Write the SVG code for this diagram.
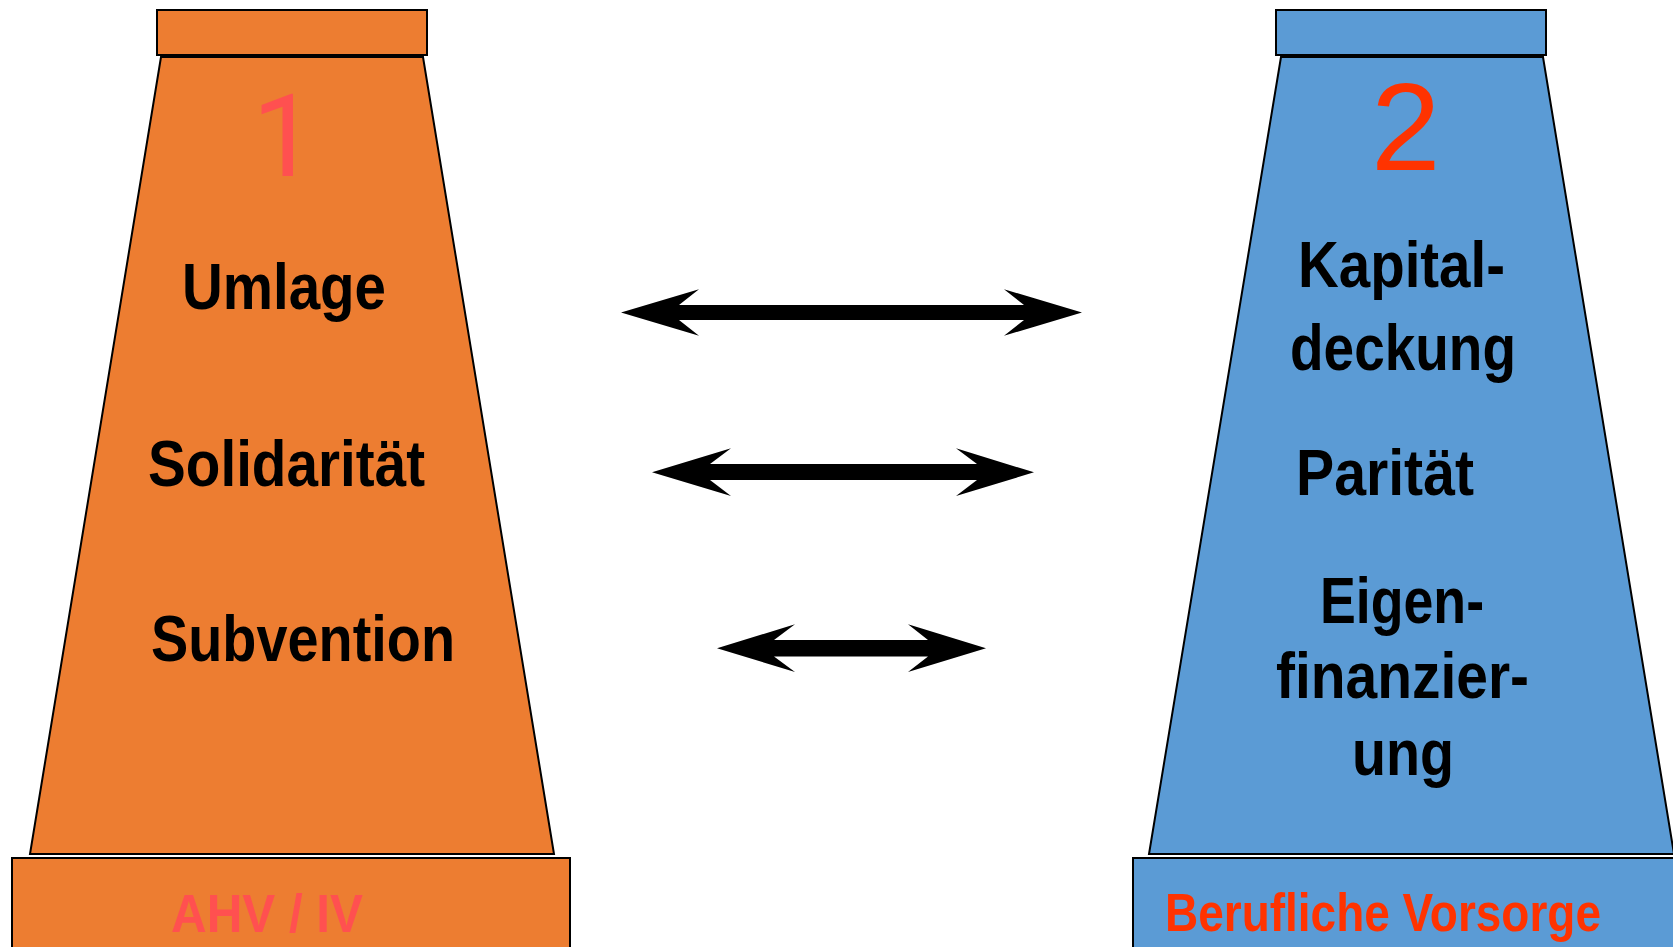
<svg xmlns="http://www.w3.org/2000/svg" width="1673" height="947" viewBox="0 0 1673 947">
<style>
.or{fill:#ED7D31;stroke:#000;stroke-width:2}
.bl{fill:#5B9BD5;stroke:#000;stroke-width:2}
.t{font-family:"Liberation Sans Narrow","Liberation Sans",Arial,sans-serif;font-weight:bold;font-size:64px;fill:#000}
.lab{font-family:"Liberation Sans Narrow","Liberation Sans",Arial,sans-serif;font-weight:bold;font-size:53px}
.num{font-family:"Liberation Sans",Arial,sans-serif;font-weight:normal}
.arr{fill:#000}
</style>
<rect width="1673" height="947" fill="#fff"/>
<g id="pillar1">
<rect class="or" x="157" y="10" width="270" height="45"/>
<polygon class="or" points="161,57 423,57 554,854 30,854"/>
<rect class="or" x="12" y="858" width="558" height="100"/>
<text x="252" y="175.7" font-family="Roboto,'Open Sans',sans-serif" font-size="115" fill="#FF5050">1</text>
<text class="t" x="182" y="309.3" textLength="204" lengthAdjust="spacingAndGlyphs">Umlage</text>
<text class="t" x="148" y="486" textLength="277" lengthAdjust="spacingAndGlyphs">Solidarität</text>
<text class="t" x="151" y="660.7" textLength="304" lengthAdjust="spacingAndGlyphs">Subvention</text>
<text class="lab" x="171" y="931.7" fill="#FF5050" textLength="192" lengthAdjust="spacingAndGlyphs">AHV / IV</text>
</g>
<g id="pillar2">
<rect class="bl" x="1276" y="10" width="270" height="45"/>
<polygon class="bl" points="1281,57 1543,57 1674,854 1149,854"/>
<rect class="bl" x="1133" y="858" width="560" height="100"/>
<text class="num" x="1371" y="170" font-size="125" fill="#FF3300">2</text>
<text class="t" x="1298" y="287.3" textLength="207" lengthAdjust="spacingAndGlyphs">Kapital-</text>
<text class="t" x="1290" y="369.8" textLength="226" lengthAdjust="spacingAndGlyphs">deckung</text>
<text class="t" x="1296" y="494.5" textLength="178" lengthAdjust="spacingAndGlyphs">Parität</text>
<text class="t" x="1320" y="622.5" textLength="164" lengthAdjust="spacingAndGlyphs">Eigen-</text>
<text class="t" x="1276" y="698.4" textLength="253" lengthAdjust="spacingAndGlyphs">finanzier-</text>
<text class="t" x="1352" y="775" textLength="102" lengthAdjust="spacingAndGlyphs">ung</text>
<text class="lab" x="1165" y="931" fill="#FF3300" font-size="52" textLength="436" lengthAdjust="spacingAndGlyphs">Berufliche Vorsorge</text>
</g>
<g id="connectors">
<polygon class="arr" points="621,312.5 699,289.3 679,305 1024,305 1004,289.3 1082,312.5 1004,335.7 1024,320 679,320 699,335.7"/>
<polygon class="arr" points="652,472.3 731,448.3 710,464 977,464 956,448.3 1034,472.3 956,496 977,480 710,480 731,496"/>
<polygon class="arr" points="717,648.3 795,624.3 774,640 928,640 908,624.3 986,648.3 908,672 928,656.5 774,656.5 795,672"/>
</g>
</svg>
